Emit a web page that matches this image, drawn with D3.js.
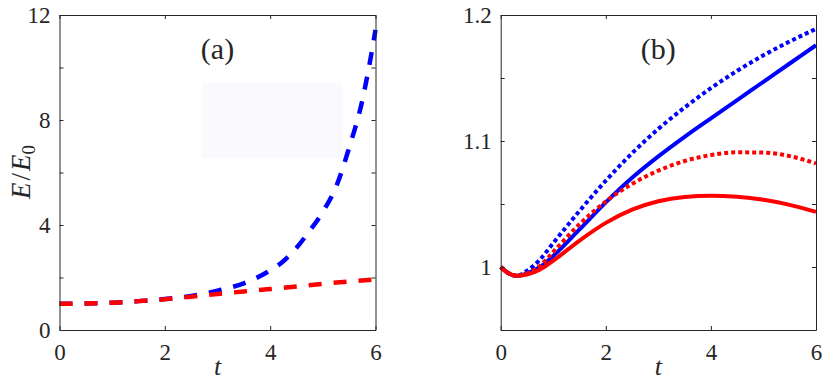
<!DOCTYPE html>
<meta charset="utf-8">
<body style="margin:0">
<script src="https://cdn.jsdelivr.net/npm/d3@7/dist/d3.min.js"></script>
<script>
    // Panel (a) data
    const tA = [0, 0.5, 1, 1.5, 2, 2.5, 3, 3.5, 4, 4.25, 4.5, 4.75, 5, 5.25, 5.5, 5.75, 5.875, 6];
    const blueDashed = [1.0, 1.01, 1.04, 1.1, 1.18, 1.3, 1.5, 1.78, 2.27, 2.62, 3.13, 3.78, 4.5, 5.45, 6.95, 8.75, 10.0, 11.43];
    const tRed = [0, 0.5, 1, 1.5, 2, 2.5, 3, 3.5, 4, 4.5, 5, 5.5, 6];
    const redDashed = [1.0, 1.01, 1.04, 1.1, 1.17, 1.27, 1.37, 1.47, 1.56, 1.66, 1.76, 1.85, 1.93];

    // Panel (b) data
    const tB = [0, 0.15, 0.3, 0.5, 0.75, 1, 1.5, 2, 2.5, 3, 3.5, 4, 4.5, 5, 5.5, 6];
    const blueSolid  = [1.0, 0.995, 0.993, 0.995, 1.0, 1.0088, 1.0298, 1.0513, 1.0708, 1.0878, 1.1033, 1.118, 1.1325, 1.147, 1.1615, 1.176];
    const blueDotted = [1.0, 0.995, 0.993, 0.997, 1.006, 1.019, 1.0445, 1.0685, 1.0903, 1.1096, 1.1266, 1.1419, 1.1557, 1.168, 1.179, 1.189];
    const redDotted  = [1.0, 0.995, 0.993, 0.995, 1.001, 1.012, 1.034, 1.052, 1.066, 1.0765, 1.0841, 1.0889, 1.091, 1.0908, 1.088, 1.0822];
    const redSolid   = [1.0, 0.995, 0.993, 0.994, 0.998, 1.005, 1.021, 1.035, 1.0455, 1.0522, 1.0556, 1.0566, 1.0557, 1.0533, 1.0493, 1.0437];

    const xTicks = [0, 2, 4, 6];
    const yTicksA = [0, 2, 4, 6, 8, 10, 12];
    const yLabelsA = ["0", "", "4", "", "8", "", "12"];
    const yTicksB = [0.95, 1, 1.05, 1.1, 1.15, 1.2];
    const yLabelsB = ["", "1", "", "1.1", "", "1.2"];

    const width = 830, height = 380;
    const top_ = 15, bottom = 330;
    const ink = "#262626";

    const svg = d3.select("body")
        .append("svg")
        .attr("width", width)
        .attr("height", height);

    function label(sel, size) {
        return sel.attr("font-family", "Liberation Serif").attr("font-size", size).attr("fill", ink);
    }

    function drawPanel(opts) {
        const x = d3.scaleLinear().domain([0, 6]).range([opts.left, opts.right]);
        const y = d3.scaleLinear().domain(opts.yDomain).range([bottom, top_]);
        const g = svg.append("g");

        // empty legend box (panel a only)
        if (opts.box) {
            g.append("rect")
                .attr("x", x(opts.box[0])).attr("y", y(opts.box[3]))
                .attr("width", x(opts.box[1]) - x(opts.box[0]))
                .attr("height", y(opts.box[2]) - y(opts.box[3]))
                .attr("rx", 2)
                .attr("fill", "#f9f9fe");
        }

        const line = d3.line().curve(d3.curveMonotoneX)
            .x(d => x(d[0])).y(d => y(d[1]));

        opts.series.forEach(s => {
            g.append("path")
                .datum(d3.zip(s.t, s.v))
                .attr("d", line)
                .attr("fill", "none")
                .attr("stroke", s.color)
                .attr("stroke-width", s.width)
                .attr("stroke-dasharray", s.dash || null);
        });

        // axes box with inward ticks
        const fmt = opts.yLabels;
        const axes = [
            [d3.axisBottom(x).tickValues(xTicks).tickFormat(d3.format("d")).tickPadding(14), `translate(0,${bottom})`],
            [d3.axisTop(x).tickValues(xTicks).tickFormat(""), `translate(0,${top_})`],
            [d3.axisLeft(y).tickValues(opts.yTicks).tickFormat((d, i) => fmt[i]).tickPadding(9), `translate(${opts.left},0)`],
            [d3.axisRight(y).tickValues(opts.yTicks).tickFormat(""), `translate(${opts.right},0)`]
        ];
        axes.forEach(([ax, tr]) => {
            const a = g.append("g").attr("transform", tr)
                .call(ax.tickSizeInner(-4).tickSizeOuter(0));
            label(a, 23);
            a.selectAll("path, line").attr("stroke", ink);
            label(a.selectAll("text"), 23);
        });

        const cx = (opts.left + opts.right) / 2;
        label(g.append("text"), 30).attr("x", cx).attr("y", 59)
            .attr("text-anchor", "middle").text(opts.tag);
        label(g.append("text"), 26).attr("x", cx).attr("y", 375)
            .attr("text-anchor", "middle")
            .attr("font-style", "italic").text("t");
    }

    drawPanel({
        left: 59.5, right: 375.5, yDomain: [0, 12],
        yTicks: yTicksA, yLabels: yLabelsA, tag: "(a)",
        box: [2.71, 5.38, 6.54, 9.4],
        series: [
            {t: tA, v: blueDashed, color: "#0000ff", width: 4.5, dash: "13,12"},
            {t: tRed, v: redDashed, color: "#ff0000", width: 4.5, dash: "13,12"}
        ]
    });

    drawPanel({
        left: 500.7, right: 816, yDomain: [0.95, 1.2],
        yTicks: yTicksB, yLabels: yLabelsB, tag: "(b)",
        series: [
            {t: tB, v: blueSolid, color: "#0000ff", width: 4},
            {t: tB, v: blueDotted, color: "#0000ff", width: 4, dash: "4,3"},
            {t: tB, v: redDotted, color: "#ff0000", width: 4, dash: "4,3"},
            {t: tB, v: redSolid, color: "#ff0000", width: 4}
        ]
    });

    // y-axis label of panel (a)
    const yl = label(svg.append("text"), 27)
        .attr("transform", "translate(30,172) rotate(-90)")
        .attr("text-anchor", "middle");
    yl.append("tspan").attr("font-style", "italic").text("E");
    yl.append("tspan").attr("dx", 2).text("/");
    yl.append("tspan").attr("dx", 2).attr("font-style", "italic").text("E");
    yl.append("tspan").attr("font-size", 19).attr("dy", 5).text("0");
</script>
</body>
